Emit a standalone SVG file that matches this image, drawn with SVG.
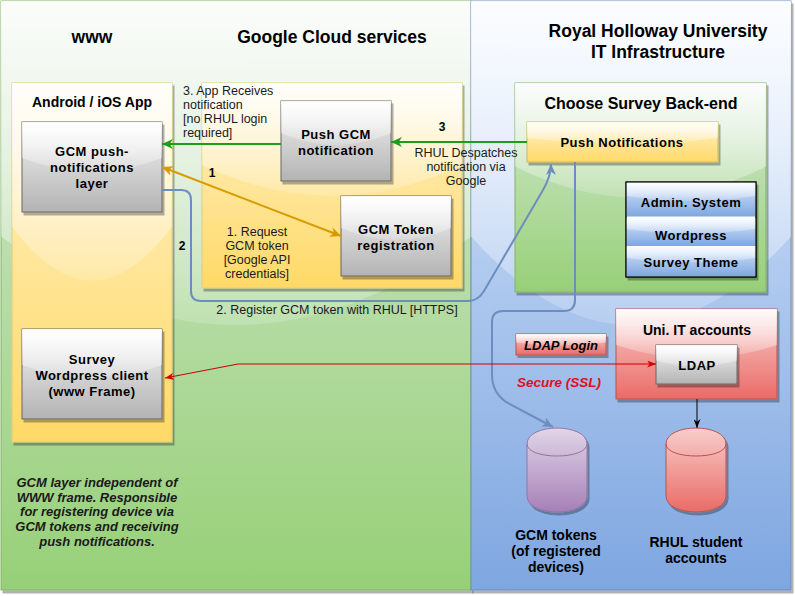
<svg xmlns="http://www.w3.org/2000/svg" width="795" height="596" viewBox="0 0 795 596">
<defs>
<linearGradient id="gGreen" x1="0" y1="0" x2="0" y2="1"><stop offset="0" stop-color="#d5e8d4"/><stop offset="1" stop-color="#97d077"/></linearGradient>
<linearGradient id="gBlue" x1="0" y1="0" x2="0" y2="1"><stop offset="0" stop-color="#dae8fc"/><stop offset="1" stop-color="#7ea6e0"/></linearGradient>
<linearGradient id="gYellow" x1="0" y1="0" x2="0" y2="1"><stop offset="0" stop-color="#fff2cc"/><stop offset="1" stop-color="#ffd966"/></linearGradient>
<linearGradient id="gGray" x1="0" y1="0" x2="0" y2="1"><stop offset="0" stop-color="#f5f5f5"/><stop offset="1" stop-color="#b3b3b3"/></linearGradient>
<linearGradient id="gRed" x1="0" y1="0" x2="0" y2="1"><stop offset="0" stop-color="#f8cecc"/><stop offset="1" stop-color="#ea6b66"/></linearGradient>
<linearGradient id="gPurple" x1="0" y1="0" x2="0" y2="1"><stop offset="0" stop-color="#e1d5e7"/><stop offset="1" stop-color="#a680b8"/></linearGradient>
<linearGradient id="gGlass" x1="0" y1="0" x2="0" y2="1.09"><stop offset="0" stop-color="#fff" stop-opacity="0.9"/><stop offset="1" stop-color="#fff" stop-opacity="0.1"/></linearGradient>
<filter id="sh" x="-5%" y="-5%" width="115%" height="115%"><feDropShadow dx="2" dy="3" stdDeviation="0.6" flood-color="#000" flood-opacity="0.3"/></filter>
<marker id="aGreen" viewBox="0 0 10 10" refX="10" refY="5" markerWidth="11" markerHeight="10" markerUnits="userSpaceOnUse" orient="auto-start-reverse" preserveAspectRatio="none"><path d="M0,0 L10,5 L0,10 L3,5 Z" fill="#1c9e1c"/></marker>
<marker id="aOrange" viewBox="0 0 10 10" refX="10" refY="5" markerWidth="11" markerHeight="10" markerUnits="userSpaceOnUse" orient="auto-start-reverse" preserveAspectRatio="none"><path d="M0,0 L10,5 L0,10 L3,5 Z" fill="#d79b00"/></marker>
<marker id="aBlue" viewBox="0 0 10 10" refX="10" refY="5" markerWidth="11" markerHeight="10" markerUnits="userSpaceOnUse" orient="auto-start-reverse" preserveAspectRatio="none"><path d="M0,0 L10,5 L0,10 L3,5 Z" fill="#6c8ebf"/></marker>
<marker id="aRed" viewBox="0 0 10 10" refX="10" refY="5" markerWidth="9" markerHeight="7" markerUnits="userSpaceOnUse" orient="auto-start-reverse" preserveAspectRatio="none"><path d="M0,0 L10,5 L0,10 L3,5 Z" fill="#cc0000"/></marker>
<marker id="aBlack" viewBox="0 0 10 10" refX="10" refY="5" markerWidth="9" markerHeight="7" markerUnits="userSpaceOnUse" orient="auto-start-reverse" preserveAspectRatio="none"><path d="M0,0 L10,5 L0,10 L3,5 Z" fill="#000"/></marker>
</defs>
<style>
text { font-family: "Liberation Sans", Arial, sans-serif; fill: #000; }
.t17 { font-size: 17.5px; font-weight: bold; text-anchor: middle; }
.t14 { font-size: 16px; font-weight: bold; text-anchor: middle; }
.t13 { font-size: 13px; font-weight: bold; text-anchor: middle; letter-spacing: 0.5px; }
.b13 { font-size: 14px; font-weight: bold; text-anchor: middle; }
.l12 { font-size: 12.5px; fill: #1a1a1a; }
.c12 { font-size: 12.5px; text-anchor: middle; fill: #1a1a1a; }
.n12 { font-size: 12px; font-weight: bold; text-anchor: middle; }
.it { font-size: 13px; font-style: italic; font-weight: bold; text-anchor: middle; fill: #1a1a1a; }
.glass { fill: url(#gGlass); }
.gray { fill: url(#gGray); stroke: #666666; stroke-width: 1; filter: url(#sh); }
.conn { fill: none; }
</style>

<g id="panel-google">
<rect x="1" y="1" width="470" height="589" fill="url(#gGreen)" stroke="#82b366" stroke-width="1" filter="url(#sh)"/>
<path class="glass" d="M1,1 L1,236.6 Q236,413.3 471,236.6 L471,1 Z"/>
<text class="t17" x="92" y="43">www</text>
<text class="t17" x="332" y="43">Google Cloud services</text>
</g>

<g id="panel-rhul">
<rect x="471" y="1" width="320" height="589" fill="url(#gBlue)" stroke="#6c8ebf" stroke-width="1" filter="url(#sh)"/>
<path class="glass" d="M471,1 L471,236.6 Q631,413.3 791,236.6 L791,1 Z"/>
<text class="t17" x="658" y="37">Royal Holloway University</text>
<text class="t17" x="658" y="58">IT Infrastructure</text>
</g>

<g id="app-container">
<rect x="12" y="83" width="160" height="359" fill="url(#gYellow)" stroke="#e3cc7c" stroke-width="1" filter="url(#sh)"/>
<path class="glass" d="M12,83 L12,226.6 Q92,334.3 172,226.6 L172,83 Z"/>
<text class="b13" x="92" y="107">Android / iOS App</text>
</g>

<g id="google-container">
<rect x="202" y="83" width="260" height="205" fill="url(#gYellow)" stroke="#e3cc7c" stroke-width="1" filter="url(#sh)"/>
<path class="glass" d="M202,83 L202,165 Q332,226.5 462,165 L462,83 Z"/>
</g>

<g id="backend-container">
<rect x="515" y="83" width="251" height="209" fill="url(#gGreen)" stroke="#82b366" stroke-width="1" filter="url(#sh)"/>
<path class="glass" d="M515,83 L515,166.6 Q640.5,229.3 766,166.6 L766,83 Z"/>
<text class="t14" x="641" y="108.5">Choose Survey Back-end</text>
</g>

<g id="uni-it-accounts">
<rect x="616" y="309" width="161" height="90" fill="url(#gRed)" stroke="#b85450" stroke-width="1" filter="url(#sh)"/>
<path class="glass" d="M616,309 L616,345 Q696.5,372 777,345 L777,309 Z"/>
<text class="b13" x="697" y="335">Uni. IT accounts</text>
</g>

<g id="gcm-push-layer">
<rect class="gray" x="22" y="122" width="140" height="90"/>
<path class="glass" d="M22,122 L22,158 Q92,185 162,158 L162,122 Z"/>
<text class="t13" x="92" y="156">GCM push-</text>
<text class="t13" x="92" y="172">notifications</text>
<text class="t13" x="92" y="188">layer</text>
</g>

<g id="survey-wordpress-client">
<rect class="gray" x="22" y="329" width="140" height="90"/>
<path class="glass" d="M22,329 L22,365 Q92,392 162,365 L162,329 Z"/>
<text class="t13" x="92" y="364">Survey</text>
<text class="t13" x="92" y="380">Wordpress client</text>
<text class="t13" x="92" y="396">(www Frame)</text>
</g>

<g id="push-gcm-notification">
<rect class="gray" x="281" y="101" width="110" height="80"/>
<path class="glass" d="M281,101 L281,133 Q336,157 391,133 L391,101 Z"/>
<text class="t13" x="336" y="139">Push GCM</text>
<text class="t13" x="336" y="155">notification</text>
</g>

<g id="gcm-token-registration">
<rect class="gray" x="341" y="196" width="110" height="80"/>
<path class="glass" d="M341,196 L341,228 Q396,252 451,228 L451,196 Z"/>
<text class="t13" x="396" y="234">GCM Token</text>
<text class="t13" x="396" y="250">registration</text>
</g>

<g id="push-notifications">
<rect x="527" y="122" width="191" height="40" fill="url(#gYellow)" stroke="#d6b656" stroke-width="1" filter="url(#sh)"/>
<path class="glass" d="M527,122 L527,138 Q622.5,150 718,138 L718,122 Z"/>
<text class="t13" x="622" y="147">Push Notifications</text>
</g>

<g id="survey-stack">
<rect x="626" y="182" width="130" height="95" fill="#fff" stroke="#000" stroke-width="1" filter="url(#sh)"/>
<rect x="626.5" y="182.5" width="129" height="34" fill="url(#gBlue)"/>
<path class="glass" d="M626.5,182.5 L626.5,196 Q691,206 755.5,196 L755.5,182.5 Z"/>
<rect x="626.5" y="218" width="129" height="28" fill="url(#gBlue)"/>
<path class="glass" d="M626.5,218 L626.5,229 Q691,238 755.5,229 L755.5,218 Z"/>
<rect x="626.5" y="246" width="129" height="30.5" fill="url(#gBlue)"/>
<path class="glass" d="M626.5,246 L626.5,258 Q691,267 755.5,258 L755.5,246 Z"/>
<rect x="626" y="182" width="130" height="95" fill="none" stroke="#000" stroke-width="1"/>
<text class="t13" x="691" y="207">Admin. System</text>
<text class="t13" x="691" y="240">Wordpress</text>
<text class="t13" x="691" y="267">Survey Theme</text>
</g>

<g id="ldap-login">
<rect x="516" y="334" width="90" height="21" fill="url(#gRed)" stroke="#b85450" stroke-width="1" filter="url(#sh)"/>
<path class="glass" d="M516,334 L516,342.4 Q561,349 606,342.4 L606,334 Z"/>
<text x="561" y="349.5" style="font-size:13px;font-weight:bold;font-style:italic;text-anchor:middle;">LDAP Login</text>
</g>

<g id="ldap">
<rect class="gray" x="656" y="345" width="81" height="39"/>
<path class="glass" d="M656,345 L656,360.6 Q696.5,372.3 737,360.6 L737,345 Z"/>
<text class="t13" x="697" y="370">LDAP</text>
</g>

<g id="gcm-tokens-db">
<path d="M527,444 C527,422.7 587,422.7 587,444 L587,496 C587,517.3 527,517.3 527,496 Z" fill="url(#gPurple)" stroke="#9673a6" stroke-width="1" filter="url(#sh)"/>
<path d="M527,444 C527,460 587,460 587,444" fill="none" stroke="#9673a6" stroke-width="1"/>
<text class="b13" x="556" y="540">GCM tokens</text>
<text class="b13" x="556" y="556">(of registered</text>
<text class="b13" x="556" y="572">devices)</text>
</g>

<g id="rhul-accounts-db">
<path d="M666,444 C666,422.7 726,422.7 726,444 L726,496 C726,517.3 666,517.3 666,496 Z" fill="url(#gRed)" stroke="#b85450" stroke-width="1" filter="url(#sh)"/>
<path d="M666,444 C666,460 726,460 726,444" fill="none" stroke="#b85450" stroke-width="1"/>
<text class="b13" x="696" y="547">RHUL student</text>
<text class="b13" x="696" y="563">accounts</text>
</g>

<g id="note">
<text class="it" x="97" y="487">GCM layer independent of</text>
<text class="it" x="97" y="502">WWW frame. Responsible</text>
<text class="it" x="97" y="516">for registering device via</text>
<text class="it" x="97" y="531">GCM tokens and receiving</text>
<text class="it" x="97" y="546">push notifications.</text>
</g>

<g id="connectors">
<path class="conn" d="M527,142 L391,142" stroke="#1c9e1c" stroke-width="2" marker-end="url(#aGreen)"/>
<path class="conn" d="M281,144 L162,144" stroke="#1c9e1c" stroke-width="2" marker-end="url(#aGreen)"/>
<path class="conn" d="M162,167 L341,236" stroke="#d79b00" stroke-width="2" marker-start="url(#aOrange)" marker-end="url(#aOrange)"/>
<path class="conn" d="M162,190 L181,190 Q191,190 191,200 L191,291 Q191,301 201,301 L468,301 Q478,301 484,291 L543,190 Q551,176 551,164" stroke="#6c8ebf" stroke-width="2" marker-end="url(#aBlue)"/>
<path class="conn" d="M575,162 L575,300 Q575,311 564,311 L503,311 Q492,311 492,322 L492,375 Q492,392 506,402 L553,427" stroke="#6c8ebf" stroke-width="2" marker-end="url(#aBlue)"/>
<path class="conn" d="M656,364 L238,364 L165,378" stroke="#cc0000" stroke-width="1" marker-start="url(#aRed)" marker-end="url(#aRed)"/>
<path class="conn" d="M697,399 L697,428" stroke="#000" stroke-width="1" marker-end="url(#aBlack)"/>
<text class="n12" x="442" y="131">3</text>
<text class="c12" x="466" y="157">RHUL Despatches</text>
<text class="c12" x="466" y="171">notification via</text>
<text class="c12" x="466" y="185">Google</text>
<text class="l12" x="183" y="95">3. App Receives</text>
<text class="l12" x="183" y="109">notification</text>
<text class="l12" x="183" y="123">[no RHUL login</text>
<text class="l12" x="183" y="137">required]</text>
<text class="n12" x="212" y="177">1</text>
<text class="c12" x="257" y="236">1. Request</text>
<text class="c12" x="257" y="250">GCM token</text>
<text class="c12" x="257" y="264">[Google API</text>
<text class="c12" x="257" y="278">credentials]</text>
<text class="n12" x="182" y="250">2</text>
<text class="c12" x="337" y="314">2. Register GCM token with RHUL [HTTPS]</text>
<text x="559" y="387" style="font-size:13.5px;font-weight:bold;font-style:italic;text-anchor:middle;fill:#e0101a;">Secure (SSL)</text>
</g>
</svg>
